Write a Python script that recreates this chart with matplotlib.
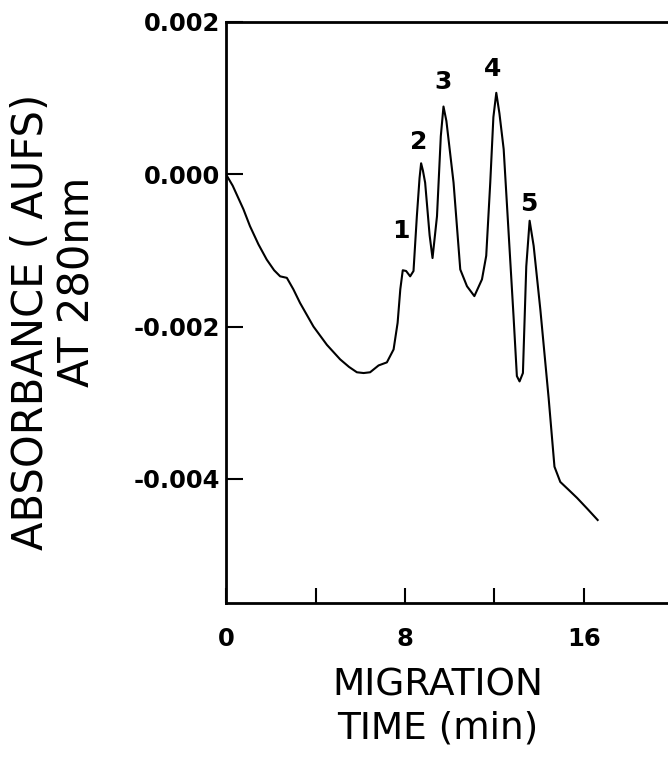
import matplotlib
matplotlib.use("Agg")
import matplotlib.pyplot as plt

# ---------------- data ----------------
time_min = [0.0, 0.3, 0.78, 1.07, 1.45, 1.82, 2.15, 2.42, 2.72, 3.01, 3.31,
            3.91, 4.51, 5.10, 5.50, 5.85, 6.15, 6.44, 6.82, 7.19, 7.49, 7.67,
            7.79, 7.90, 8.05, 8.23, 8.38, 8.53, 8.65, 8.72, 8.80, 8.90, 9.10,
            9.23, 9.43, 9.60, 9.72, 9.85, 10.17, 10.47, 10.77, 11.10, 11.44,
            11.63, 11.81, 11.95, 12.08, 12.22, 12.41, 12.85, 13.00, 13.12,
            13.27, 13.42, 13.57, 13.75, 14.05, 14.42, 14.68, 14.94, 15.30,
            15.69, 16.14, 16.61]
absorbance = [0.0, -0.00015, -0.00046, -0.00068, -0.00092, -0.00112,
              -0.00126, -0.00134, -0.00136, -0.00151, -0.00169, -0.00200,
              -0.00224, -0.00243, -0.00253, -0.00260, -0.00261, -0.00260,
              -0.00251, -0.00247, -0.00230, -0.00195, -0.00151, -0.00126,
              -0.00127, -0.00134, -0.00127, -0.00055, -0.00005, 0.000145,
              0.00005, -0.00011, -0.00080, -0.00110, -0.00055, 0.00050,
              0.00089, 0.00070, -0.00011, -0.00125, -0.00147, -0.00160,
              -0.00138, -0.00107, -0.00011, 0.00075, 0.00107, 0.00080,
              0.00033, -0.00186, -0.00265, -0.00272, -0.00261, -0.00121,
              -0.00061, -0.00094, -0.00178, -0.00294, -0.00384, -0.00404,
              -0.00414, -0.00425, -0.00439, -0.00454]

peak_labels = ["1", "2", "3", "4", "5"]
peak_x = [7.80, 8.59, 9.70, 11.93, 13.53]
peak_y = [-0.00075, 0.00042, 0.00121, 0.00138, -0.00039]

x_tick_pos = [0, 8, 16]
x_tick_labels = ["0", "8", "16"]
x_minor_pos = [4, 12]
y_tick_pos = [0.002, 0.0, -0.002, -0.004]
y_tick_labels = ["0.002", "0.000", "-0.002", "-0.004"]

# ---------------- figure ----------------
W, H = 668, 764
fig = plt.figure(figsize=(W / 100, H / 100), dpi=100)
left, right, top, bottom = 226, 668, 22, 603
ax = fig.add_axes([left / W, 1 - bottom / H, (right - left) / W, (bottom - top) / H])

ax.plot(time_min, absorbance, color="black", linewidth=1.5)

for lab, px, py in zip(peak_labels, peak_x, peak_y):
    ax.text(px, py, lab, fontsize=18, fontweight="bold", ha="center", va="center")

ax.set_xlim(0, (right - left) / 22.375)
ax.set_ylim(-0.00563, 0.002)

ax.set_xticks(x_tick_pos)
ax.set_xticklabels(x_tick_labels)
ax.set_xticks(x_minor_pos, minor=True)
ax.set_yticks(y_tick_pos)
ax.set_yticklabels(y_tick_labels)

ax.tick_params(axis="x", which="both", direction="in", length=11, width=1.5,
               pad=17, labelsize=17.5)
ax.tick_params(axis="y", direction="in", length=12, width=1.5, pad=4,
               labelsize=17.5)
for lbl in ax.get_xticklabels() + ax.get_yticklabels():
    lbl.set_fontweight("bold")

ax.spines["right"].set_visible(False)
for s in ["left", "bottom", "top"]:
    ax.spines[s].set_linewidth(2)

# axis titles
fig.text(31 / W, 1 - 322 / H, "ABSORBANCE ( AUFS)", rotation=90,
         fontsize=30, ha="center", va="center")
fig.text(78 / W, 1 - 282 / H, "AT 280nm", rotation=90,
         fontsize=30, ha="center", va="center")
fig.text(438 / W, 1 - 686 / H, "MIGRATION", fontsize=27, ha="center", va="center")
fig.text(438 / W, 1 - 729 / H, "TIME (min)", fontsize=27, ha="center", va="center")

fig.savefig("out.png", dpi=100)
